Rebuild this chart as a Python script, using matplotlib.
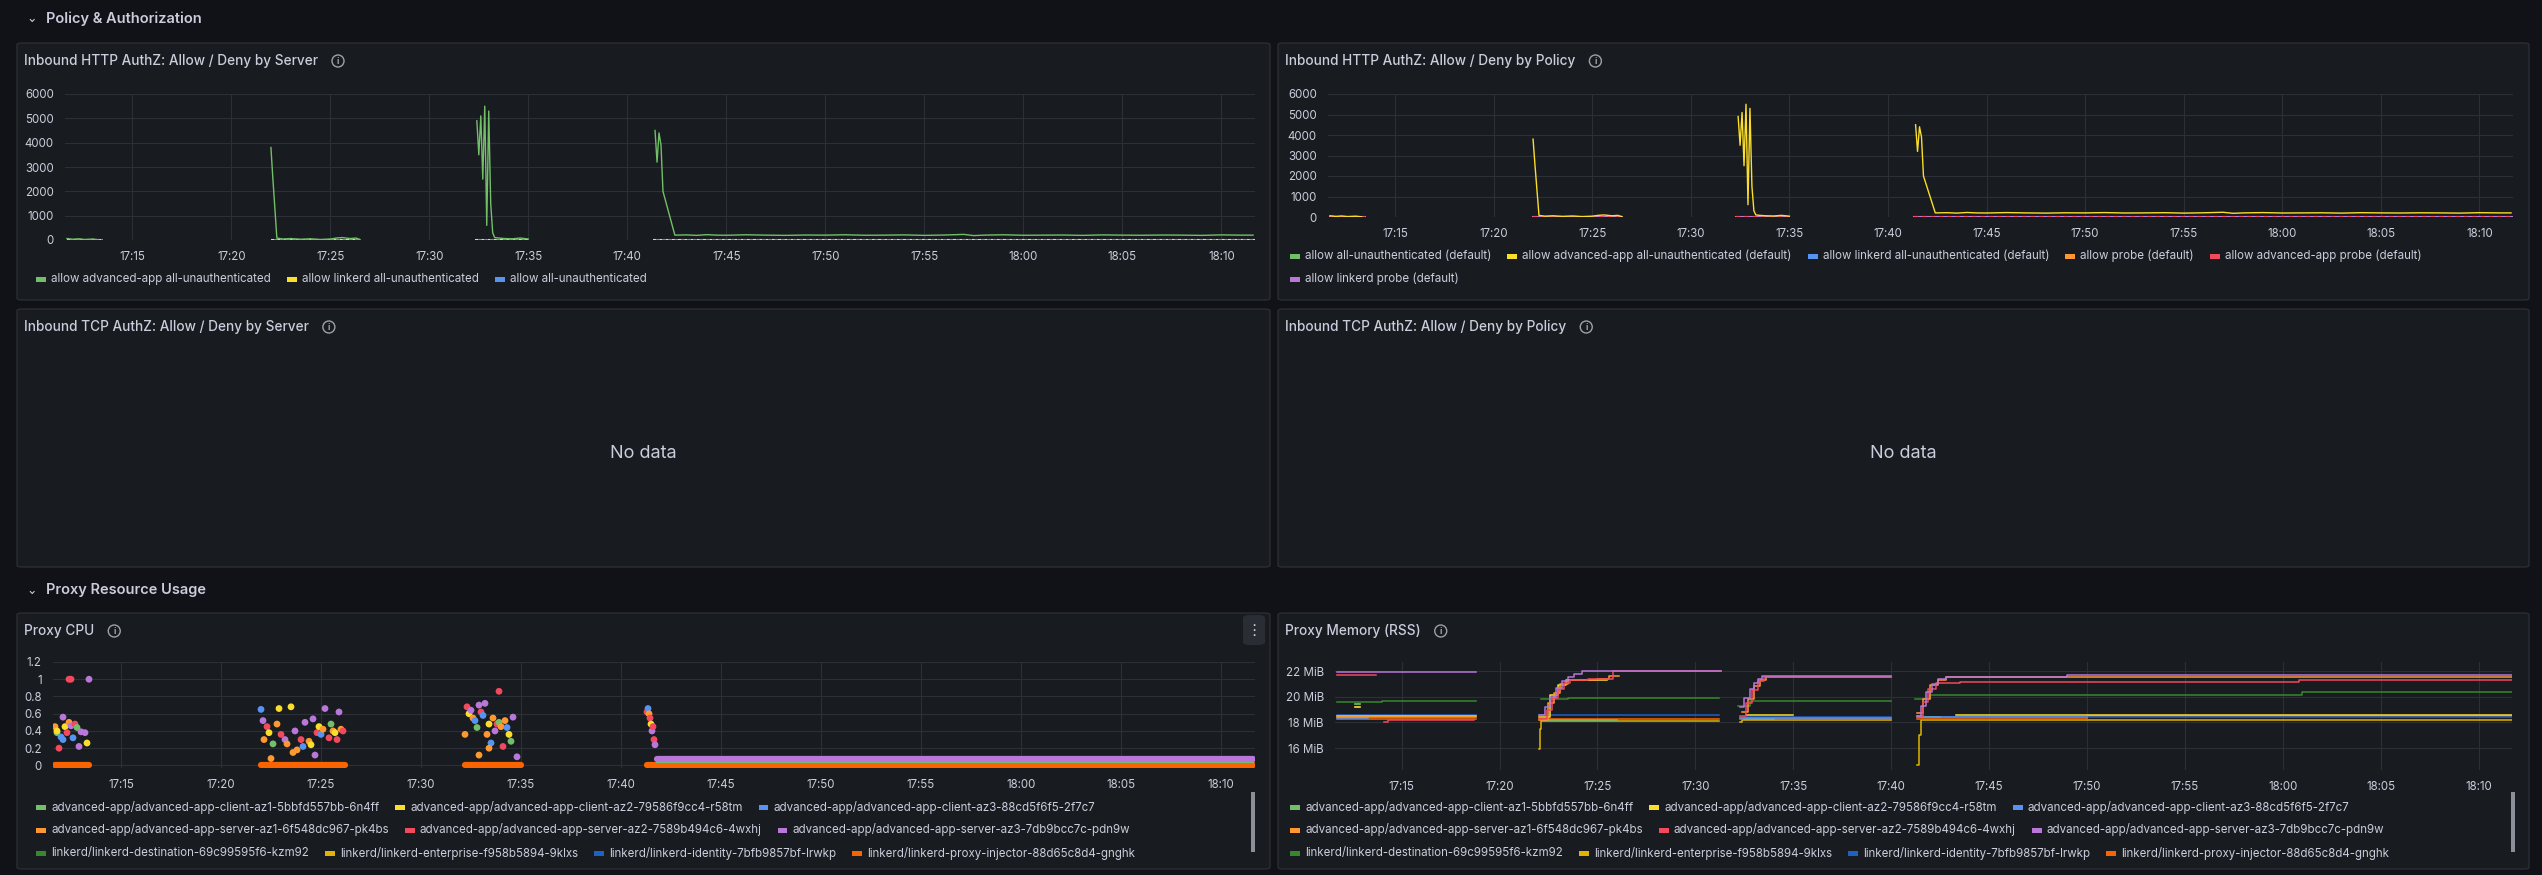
import matplotlib
matplotlib.use("Agg")
import matplotlib.pyplot as plt
from matplotlib.patches import FancyBboxPatch, Rectangle, Ellipse
import numpy as np

plt.rcParams["font.family"] = ["Inter", "DejaVu Sans"]

W, H = 2542, 875
BG = "#111217"
PANEL = "#181b1f"
BORDER = "#2a2d33"
TXT = "#ccccdc"
GRID = "#2c2f35"

C = dict(green="#73BF69", yellow="#FADE2A", blue="#5794F2", orange="#FF9830",
         red="#F2495C", purple="#B877D9", dgreen="#37872D", dyellow="#E0B400",
         dblue="#1F60C4", dorange="#FA6400")

N = np.nan
# ---------------------------------------------------------------- data
# time = minutes after 17:00
xticks = [15, 20, 25, 30, 35, 40, 45, 50, 55, 60, 65, 70]
xlabels = ["17:15", "17:20", "17:25", "17:30", "17:35", "17:40", "17:45",
           "17:50", "17:55", "18:00", "18:05", "18:10"]

# HTTP authz, main series (advanced-app all-unauthenticated)
http_t = [11.7, 12.0, 12.3, 12.6, 13.0, 13.3, N,
          22.0, 22.1, 22.3, 22.6, 23.0, 23.5, 24.0, 24.5, 25.0, 25.3, 25.6, 26.0, 26.3, 26.5, N,
          32.4, 32.5, 32.6, 32.7, 32.8, 32.9, 33.0, 33.1, 33.2, 33.3, 33.5, 33.8, 34.2, 34.6, 35.0, N,
          41.4, 41.5, 41.6, 41.7, 41.8, 42.4, 43.0, 43.5, 44.0, 44.5, 45.0, 46.0, 47.0, 48.0,
          49.0, 50.0, 51.0, 52.0, 53.0, 54.0, 55.0, 56.0, 57.0, 57.5, 58.0, 59.0, 60.0, 61.0,
          62.0, 63.0, 64.0, 65.0, 66.0, 67.0, 68.0, 69.0, 70.0, 71.0, 71.6]
http_v = [60, 30, 50, 20, 40, 10, N,
          3800, 2500, 80, 40, 60, 30, 50, 20, 40, 80, 100, 60, 80, 20, N,
          4900, 3500, 5100, 2500, 5500, 600, 5300, 1500, 300, 100, 80, 60, 50, 80, 40, N,
          4500, 3200, 4400, 3900, 2000, 200, 210, 190, 220, 200, 195, 215, 200, 190,
          205, 200, 215, 195, 200, 210, 190, 205, 230, 180, 200, 215, 195, 200,
          205, 190, 210, 200, 195, 205, 200, 190, 210, 200, 200]
low_t = [11.7, 13.5, N, 22.0, 26.5, N, 32.3, 35.0, N, 41.3, 71.7]
low_v = [5, 5, N, 5, 5, N, 5, 5, N, 5, 5]

# Proxy CPU scatter clusters (time, value, colour key)
cpu_t = [11.7, 11.8, 11.9, 12.0, 12.1, 12.2, 12.3, 12.4, 12.5, 12.6, 12.7, 12.8, 12.9, 13.0, 12.5, 13.2, 13.3, 11.8, 12.1,
         22.0, 22.1, 22.15, 22.3, 22.4, 22.6, 22.8, 22.9, 23.0, 23.2, 23.3, 23.5, 23.7, 23.8, 24.0, 24.1, 24.2, 24.4,
         24.5, 24.6, 24.8, 24.9, 25.0, 25.1, 25.2, 25.4, 25.5, 25.6, 25.7, 25.8, 25.9, 26.0, 26.1, 22.5, 23.6, 24.7,
         32.2, 32.3, 32.4, 32.5, 32.6, 32.7, 32.8, 32.9, 33.0, 33.1, 33.2, 33.3, 33.4, 33.5, 33.6, 33.7, 33.8, 33.9,
         34.0, 34.1, 34.2, 34.3, 34.4, 34.5, 34.6, 34.8, 32.9, 33.4,
         41.3, 41.35, 41.4, 41.45, 41.5, 41.55, 41.6, 41.65, 41.7]
cpu_v = [0.45, 0.38, 0.2, 0.33, 0.56, 0.45, 0.38, 0.5, 0.46, 0.32, 0.48, 0.44, 0.22, 0.39, 1.0, 0.38, 0.26, 0.4, 0.3,
         0.65, 0.52, 0.3, 0.45, 0.38, 0.25, 0.48, 0.66, 0.36, 0.3, 0.25, 0.68, 0.4, 0.18, 0.3, 0.22, 0.5, 0.28,
         0.24, 0.54, 0.38, 0.45, 0.36, 0.42, 0.66, 0.32, 0.48, 0.4, 0.38, 0.3, 0.62, 0.42, 0.4, 0.08, 0.15, 0.12,
         0.36, 0.68, 0.6, 0.64, 0.55, 0.52, 0.44, 0.7, 0.62, 0.58, 0.72, 0.36, 0.48, 0.26, 0.55, 0.4, 0.48, 0.5,
         0.45, 0.22, 0.52, 0.44, 0.36, 0.28, 0.56, 0.1, 0.12, 0.2,
         0.62, 0.66, 0.6, 0.55, 0.48, 0.4, 0.45, 0.3, 0.24]
cpu_c = ["orange", "green", "red", "blue", "purple", "yellow", "red", "orange", "purple", "blue", "red", "green", "purple", "purple", "red", "purple", "yellow", "yellow", "blue",
         "blue", "purple", "orange", "red", "yellow", "green", "orange", "yellow", "red", "purple", "orange", "yellow", "purple", "orange", "red", "blue", "purple", "orange",
         "yellow", "purple", "red", "yellow", "blue", "orange", "purple", "red", "green", "orange", "yellow", "red", "purple", "orange", "red", "orange", "orange", "purple",
         "orange", "red", "yellow", "purple", "orange", "blue", "green", "purple", "red", "blue", "purple", "orange", "yellow", "blue", "orange", "purple", "red", "green",
         "orange", "red", "orange", "blue", "yellow", "green", "purple", "purple", "orange", "orange",
         "red", "blue", "orange", "red", "yellow", "purple", "red", "red", "purple"]
cpu_extra_t = [12.4, 13.4, 33.9]
cpu_extra_v = [1.0, 1.0, 0.86]
cpu_extra_c = ["red", "purple", "red"]
cpu_base_t = [11.7, 13.4, N, 22.0, 26.2, N, 32.2, 35.0, N, 41.3, 71.6]
cpu_base_v = [0.0, 0.0, N, 0.0, 0.0, N, 0.0, 0.0, N, 0.0, 0.0]
cpu_flat_t = [41.8, 71.6]
cpu_flat_v = [0.07, 0.07]

# Proxy memory (MiB), step series
mem = {
    "purple": ([11.7, 18.8, N, 22.0, 22.3, 22.6, 22.9, 23.2, 23.5, 23.8, 24.2, 31.3, N,
                32.3, 32.5, 32.8, 33.0, 33.2, 33.4, 40.0, N, 41.3, 41.5, 41.8, 42.1, 42.4, 42.8, 49.0, 71.7],
               [21.95, 21.95, N, 18.6, 19.2, 20.0, 20.7, 21.2, 21.5, 21.8, 22.0, 22.0, N,
                19.2, 19.9, 20.6, 21.1, 21.4, 21.6, 21.6, N, 18.5, 19.3, 20.4, 21.0, 21.4, 21.55, 21.7, 21.7]),
    "red": ([11.7, 13.7, N, 14.1, 14.3, 18.7, N, 22.0, 22.4, 22.7, 23.0, 23.3, 23.6, 24.5, 25.8, 31.3, N,
             32.3, 32.6, 32.9, 33.2, 33.5, 40.0, N, 41.3, 41.6, 41.9, 42.3, 43.5, 60.8, 71.7],
            [21.7, 21.7, N, 18.0, 18.2, 18.2, N, 18.3, 19.0, 19.9, 20.6, 21.1, 21.3, 21.4, 22.0, 22.0, N,
             18.5, 19.5, 20.5, 21.2, 21.5, 21.5, N, 18.5, 19.6, 20.6, 21.1, 21.15, 21.3, 21.3]),
    "orange": ([11.7, 18.8, N, 22.0, 22.5, 22.8, 23.1, 23.5, 25.0, 25.6, 26.1, N,
                32.4, 32.7, 33.0, 33.3, 33.6, 40.0, N, 41.3, 41.6, 42.0, 42.4, 42.8, 71.7],
               [18.4, 18.4, N, 18.2, 19.5, 20.3, 21.0, 21.3, 21.4, 21.6, 21.6, N,
                18.8, 19.8, 20.8, 21.3, 21.5, 21.5, N, 18.7, 19.8, 20.9, 21.3, 21.5, 21.5]),
    "yellow": ([11.7, 18.8, N, 22.0, 22.6, 23.0, 23.4, 25.5, N, 32.6, 35.0, N, 43.3, 71.7],
               [18.5, 18.5, N, 18.4, 20.1, 20.9, 21.3, 21.3, N, 18.6, 18.6, N, 18.6, 18.6]),
    "blue": ([11.7, 13.3, N, 32.3, 40.0, N, 41.3, 50.0],
             [18.35, 18.35, N, 18.35, 18.35, N, 18.45, 18.45]),
    "green": ([22.2, 26.0, N, 32.5, 34.0, N, 41.5, 42.5], [18.2, 18.2, N, 18.3, 18.3, N, 18.4, 18.4]),
    "dgreen": ([11.7, 14.0, 18.8, N, 22.1, 23.5, 31.2, N, 32.2, 32.8, 40.0, N, 41.2, 42.0, 51.0, 61.0, 71.7],
               [19.6, 19.7, 19.7, N, 19.8, 19.9, 19.9, N, 19.3, 19.7, 19.7, N, 19.8, 20.1, 20.15, 20.35, 20.35]),
    "dblue": ([11.7, 18.8, N, 22.0, 31.2, N, 32.3, 40.0, N, 41.3, 50.0, 71.7],
              [18.55, 18.55, N, 18.6, 18.6, N, 18.4, 18.4, N, 18.4, 18.45, 18.45]),
    "dyellow": ([22.0, 22.05, 22.1, 31.2, N, 32.3, 32.4, 40.0, N, 41.3, 41.4, 41.5, 71.7],
                [15.9, 17.5, 18.1, 18.1, N, 18.0, 18.2, 18.2, N, 14.7, 17.0, 18.2, 18.2]),
    "dorange": ([11.7, 18.8, N, 22.0, 31.2, N, 32.3, 40.0, N, 41.3, 50.0, 71.7],
                [18.3, 18.3, N, 18.3, 18.3, N, 18.3, 18.3, N, 18.3, 18.5, 18.5]),
}

leg_server = [("green", "allow advanced-app all-unauthenticated"),
              ("yellow", "allow linkerd all-unauthenticated"),
              ("blue", "allow all-unauthenticated")]
leg_policy = [[("green", "allow all-unauthenticated (default)"),
               ("yellow", "allow advanced-app all-unauthenticated (default)"),
               ("blue", "allow linkerd all-unauthenticated (default)"),
               ("orange", "allow probe (default)"),
               ("red", "allow advanced-app probe (default)")],
              [("purple", "allow linkerd probe (default)")]]
leg_proxy = [[("green", "advanced-app/advanced-app-client-az1-5bbfd557bb-6n4ff"),
              ("yellow", "advanced-app/advanced-app-client-az2-79586f9cc4-r58tm"),
              ("blue", "advanced-app/advanced-app-client-az3-88cd5f6f5-2f7c7")],
             [("orange", "advanced-app/advanced-app-server-az1-6f548dc967-pk4bs"),
              ("red", "advanced-app/advanced-app-server-az2-7589b494c6-4wxhj"),
              ("purple", "advanced-app/advanced-app-server-az3-7db9bcc7c-pdn9w")],
             [("dgreen", "linkerd/linkerd-destination-69c99595f6-kzm92"),
              ("dyellow", "linkerd/linkerd-enterprise-f958b5894-9klxs"),
              ("dblue", "linkerd/linkerd-identity-7bfb9857bf-lrwkp"),
              ("dorange", "linkerd/linkerd-proxy-injector-88d65c8d4-gnghk")]]

# ---------------------------------------------------------------- helpers
fig = plt.figure(figsize=(W / 100, H / 100), dpi=100, facecolor=BG)
renderer = fig.canvas.get_renderer()


def fx(x):
    return x / W


def fy(y):
    return 1 - y / H


def add_patch(p, z=-1):
    p.set_zorder(z)
    fig.patches.append(p)


def panel(x0, y0, x1, y1, title):
    add_patch(FancyBboxPatch((fx(x0), fy(y1)), fx(x1 - x0), (y1 - y0) / H,
                             boxstyle="round,pad=0,rounding_size=0.002",
                             transform=fig.transFigure, fc=PANEL, ec=BORDER, lw=1), -2)
    t = fig.text(fx(x0 + 7), fy(y0 + 18), title, color=TXT, fontsize=9.8,
                 fontweight="medium", va="center")
    bb = t.get_window_extent(renderer)
    cx = bb.x1 + 20
    add_patch(Ellipse((cx / W, fy(y0 + 18)), 12 / W, 12 / H, transform=fig.transFigure,
                      fc="none", ec="#9fa1a8", lw=1), 2)
    fig.text(cx / W, fy(y0 + 18), "i", color="#9fa1a8", fontsize=6.5, ha="center",
             va="center", fontweight="bold")


def axes(x0, y0, x1, y1):
    ax = fig.add_axes([fx(x0), fy(y1), fx(x1 - x0), (y1 - y0) / H])
    ax.set_facecolor("none")
    for s in ax.spines.values():
        s.set_visible(False)
    ax.grid(True, color=GRID, lw=0.8)
    ax.set_axisbelow(True)
    ax.tick_params(colors=TXT, labelsize=8.3, length=0, pad=8)
    ax.set_xlim(11.6, 71.7)
    ax.set_xticks(xticks)
    ax.set_xticklabels(xlabels)
    return ax


def legend(x, y, items):
    for key, label in items:
        add_patch(Rectangle((fx(x), fy(y + 2.5)), fx(10), 5 / H,
                            transform=fig.transFigure, fc=C[key], ec="none"), 2)
        t = fig.text(fx(x + 15), fy(y), label, color=TXT, fontsize=8.3, va="center")
        x = t.get_window_extent(renderer).x1 + 16


def header(y, text):
    fig.text(fx(26), fy(y), "⌄", color=TXT, fontsize=9, va="center", family=["DejaVu Sans"])
    fig.text(fx(46), fy(y), text, color=TXT, fontsize=10.5, fontweight="semibold", va="center")


# ---------------------------------------------------------------- layout
header(19, "Policy & Authorization")
header(590, "Proxy Resource Usage")

# top-left
panel(17, 43, 1270, 300, "Inbound HTTP AuthZ: Allow / Deny by Server")
ax = axes(65, 94, 1255, 240)
ax.set_ylim(0, 6000)
ax.set_yticks([0, 1000, 2000, 3000, 4000, 5000, 6000])
ax.plot(low_t, low_v, color=C["yellow"], lw=1.5, ls=(0, (1.5, 1.5)))
ax.plot(low_t, low_v, color=C["blue"], lw=1.5, ls=(1.5, (1.5, 1.5)))
ax.plot(http_t, http_v, color=C["green"], lw=1)
legend(36, 279, leg_server)

# top-right
panel(1278, 43, 2529, 300, "Inbound HTTP AuthZ: Allow / Deny by Policy")
ax = axes(1328, 94, 2513, 217)
ax.set_ylim(0, 6000)
ax.set_yticks([0, 1000, 2000, 3000, 4000, 5000, 6000])
ax.plot(low_t, low_v, color=C["purple"], lw=1.5)
ax.plot(low_t, low_v, color=C["red"], lw=1.5, ls=(0, (2, 2)))
ax.plot(http_t, http_v, color=C["yellow"], lw=1)
legend(1290, 256, leg_policy[0])
legend(1290, 279, leg_policy[1])

# middle no-data panels
panel(17, 309, 1270, 567, "Inbound TCP AuthZ: Allow / Deny by Server")
fig.text(fx(643), fy(453), "No data", color=TXT, fontsize=13, ha="center", va="center")
panel(1278, 309, 2529, 567, "Inbound TCP AuthZ: Allow / Deny by Policy")
fig.text(fx(1903), fy(453), "No data", color=TXT, fontsize=13, ha="center", va="center")

# bottom-left: CPU
panel(17, 613, 1270, 869, "Proxy CPU")
add_patch(FancyBboxPatch((fx(1243), fy(645)), fx(22), 30 / H,
                         boxstyle="round,pad=0,rounding_size=0.003",
                         transform=fig.transFigure, fc="#2a2d33", ec="none"), -1)
fig.text(fx(1254), fy(630), "⋮", color=TXT, fontsize=11, ha="center", va="center",
         family=["DejaVu Sans"])
ax = axes(53, 662, 1255, 768)
ax.set_ylim(-0.03, 1.2)
ax.set_yticks([0, 0.2, 0.4, 0.6, 0.8, 1, 1.2])
ax.set_yticklabels(["0", "0.2", "0.4", "0.6", "0.8", "1", "1.2"])
ax.plot(cpu_base_t, cpu_base_v, color=C["dorange"], lw=4.5, solid_capstyle="round")
ax.plot(cpu_flat_t, [0.04, 0.04], color=C["green"], lw=1.5)
ax.plot(cpu_flat_t, cpu_flat_v, color=C["purple"], lw=4.5, solid_capstyle="round")
ax.scatter(cpu_t, cpu_v, c=[C[k] for k in cpu_c], s=24, lw=0, zorder=3)
ax.scatter(cpu_extra_t, cpu_extra_v, c=[C[k] for k in cpu_extra_c], s=24, lw=0, zorder=3)
legend(36, 807, leg_proxy[0])
legend(36, 830, leg_proxy[1])
legend(36, 853, leg_proxy[2])
add_patch(Rectangle((fx(1251), fy(852)), fx(4), 60 / H, transform=fig.transFigure,
                    fc="#8e8e99", ec="none"), 2)

# bottom-right: memory
panel(1278, 613, 2529, 869, "Proxy Memory (RSS)")
ax = axes(1335, 662, 2512, 770)
ax.set_ylim(14.3, 22.7)
ax.set_yticks([16, 18, 20, 22])
ax.set_yticklabels(["16 MiB", "18 MiB", "20 MiB", "22 MiB"])
for key in ["dyellow", "dorange", "dblue", "green", "blue", "yellow", "dgreen", "orange", "red", "purple"]:
    t, v = mem[key]
    ax.plot(t, v, color=C[key], lw=1.1, drawstyle="steps-post")
ax.plot([12.6, 12.9], [19.4, 19.4], color=C["green"], lw=1.2)
ax.plot([12.6, 12.9], [19.2, 19.2], color=C["yellow"], lw=1.2)
legend(1290, 807, leg_proxy[0])
legend(1290, 830, leg_proxy[1])
legend(1290, 853, leg_proxy[2])
add_patch(Rectangle((fx(2511), fy(852)), fx(4), 60 / H, transform=fig.transFigure,
                    fc="#8e8e99", ec="none"), 2)

fig.savefig("out.png", dpi=100, facecolor=BG)
